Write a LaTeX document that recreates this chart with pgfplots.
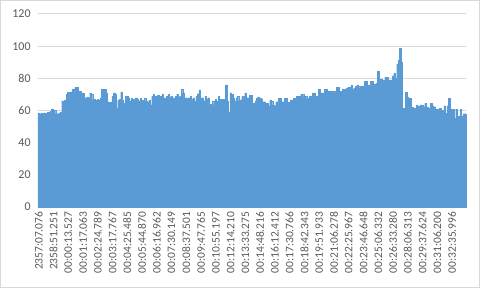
\documentclass[border=0pt]{standalone}
\usepackage{pgfplots}
\pgfplotsset{compat=1.18}
\usepackage{pgfplotstable}
\usepackage{fontspec}
\setmainfont{Carlito}
\definecolor{barblue}{HTML}{5B9BD5}
\definecolor{gridgray}{HTML}{D9D9D9}
\definecolor{labelgray}{HTML}{595959}
\pgfplotstableread{
v
58.3
58
58.3
58.3
58.5
58.3
58.7
58.7
59.5
61
59
60
58
58
58.5
59
66
63
66.6
70
71.5
71
71.5
73
73.5
74.5
74.5
62
72
69
71
68
68
68.5
68
71
70
66.6
67
66.5
67
66.6
67.6
73
70
73
71
65.5
61
65
69
71
70.5
61.5
66.6
67
71.5
66.6
64.5
69
69
68
66
67.6
67
66
68
67
66
67.6
66.5
63.5
67.6
66
65
66.5
63.5
69
70
69
68
69.5
68
69
70
68
67.5
69
70
68.5
69
68
67.5
69
70
68.5
69
73
71
67
68
66.5
68
69
67
68
66
69
70.5
72.8
67.6
68
66
69
67
68
64
63.5
66
63.5
67
66
69
67
66
67
66
76
66
58.7
71
70
68
66
68
69
66
66.6
68.7
69
71
68
68
69.5
69.5
59.8
64.5
66
68
68.5
67.6
67
65.5
65.5
64.5
64.5
63
66.6
66
63.5
63
65.5
65.5
67.6
67.6
65.5
65.5
67.6
67.6
65
65
66.6
66.6
67.6
67.6
68.7
68.7
68.7
70
70
68.7
68.7
67.6
67.6
68.7
68.7
71
71
68.7
68.7
73
71
71
71
73
73
72
72
72
72
72
71
74.5
74.5
72
72
73
73
73.3
74
74.5
74.5
76
73.5
74
75
76
75
74
75
75
78
78
76
76
78
78
76
76.5
77
84.6
79.5
79.5
78
79
80.7
80.7
77
79
79
81.5
83
80
89
91.5
98.8
90
61.4
43.8
71.4
68.3
67.6
67.6
62
60.4
61.4
63.5
63
62.4
63.5
63.5
62.4
64.5
62
61.4
61.4
64.5
63
62.4
60.8
60.8
59.3
61.4
58.7
60
63
58.3
63
67.6
58.3
60.8
60.8
55
60.8
56.6
56.6
61
56.6
58
58
}\datatable
\begin{document}
\begin{tikzpicture}
\useasboundingbox (0,0) rectangle (360pt,216pt);
\fill[white] (0,0) rectangle (360pt,216pt);
\draw[gridgray, line width=0.75pt] (0.375pt,0.375pt) rectangle (359.625pt,215.625pt);
\begin{axis}[
  at={(28.5pt,60.75pt)}, anchor=south west,
  scale only axis, width=321pt, height=144.75pt,
  xmin=-0.5, xmax=289.5, ymin=0, ymax=120,
  ytick={0,20,...,120},
  xtick={0,10,...,280},
  xticklabels={2357:07.076,2358:51.251,00:00:13.527,00:01:17.063,00:02:24.789,00:03:17.767,00:04:25.485,00:05:44.870,00:06:16.962,00:07:30.149,00:08:37.501,00:09:47.765,00:10:55.197,00:12:14.210,00:13:33.275,00:14:48.216,00:16:12.412,00:17:30.766,00:18:42.343,00:19:51.933,00:21:06.278,00:22:25.967,00:23:46.648,00:25:06.332,00:26:33.280,00:28:06.313,00:29:37.624,00:31:06.200,00:32:35.996},
  ymajorgrids, grid style={draw=gridgray, line width=0.75pt},
  axis line style={draw=none},
  major tick length=0pt,
  tick label style={font=\fontsize{9}{10}\selectfont, text=labelgray},
  /pgf/number format/assume math mode=true,
  x tick label style={rotate=90, anchor=east, font=\fontsize{8.6}{10}\selectfont},
  yticklabel style={xshift=-2pt},
  clip=false,
]
\addplot[ybar, bar width=1, bar shift=0pt, fill=barblue, draw=barblue, line width=0.15pt]
  table[x expr=\coordindex, y=v] {\datatable};
\end{axis}
\end{tikzpicture}
\end{document}
